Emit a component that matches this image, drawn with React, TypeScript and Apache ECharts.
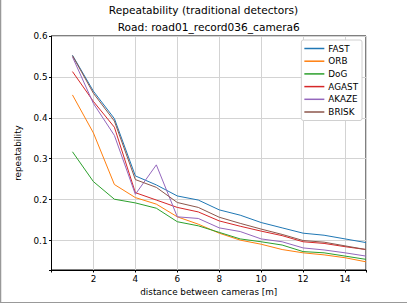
import React, { useEffect, useRef } from "react";
import * as echarts from "echarts";

const distances = [1, 2, 3, 4, 5, 6, 7, 8, 9, 10, 11, 12, 13, 14, 15];
const FAST = [0.553, 0.465, 0.398, 0.258, 0.236, 0.209, 0.199, 0.175, 0.162, 0.144, 0.131, 0.118, 0.113, 0.104, 0.095];
const ORB = [0.456, 0.363, 0.237, 0.205, 0.189, 0.158, 0.140, 0.118, 0.101, 0.091, 0.078, 0.070, 0.065, 0.058, 0.048];
const DoG = [0.317, 0.244, 0.201, 0.192, 0.179, 0.146, 0.136, 0.120, 0.104, 0.097, 0.089, 0.073, 0.070, 0.062, 0.054];
const AGAST = [0.513, 0.440, 0.377, 0.217, 0.199, 0.181, 0.170, 0.148, 0.135, 0.123, 0.112, 0.097, 0.093, 0.085, 0.078];
const AKAZE = [0.549, 0.435, 0.357, 0.213, 0.285, 0.158, 0.154, 0.131, 0.122, 0.104, 0.097, 0.082, 0.077, 0.070, 0.062];
const BRISK = [0.552, 0.460, 0.392, 0.249, 0.230, 0.193, 0.181, 0.157, 0.142, 0.128, 0.115, 0.100, 0.096, 0.087, 0.078];

const seriesNames = ["FAST", "ORB", "DoG", "AGAST", "AKAZE", "BRISK"];
const seriesValues = [FAST, ORB, DoG, AGAST, AKAZE, BRISK];
const colors = ["#1f77b4", "#ff7f0e", "#2ca02c", "#d62728", "#9467bd", "#8c564b"];

const FONT = "DejaVu Sans";

export default function App() {
  const ref = useRef<HTMLDivElement>(null);
  useEffect(() => {
    if (!ref.current) return;
    const chart = echarts.init(ref.current, null, { renderer: "svg" });
    const gl = 51.5, gr = 366, gt = 36, gb = 270;
    chart.setOption({
      animation: false,
      backgroundColor: "#ffffff",
      textStyle: { fontFamily: FONT },
      grid: {
        left: gl,
        right: 407 - gr,
        top: gt,
        bottom: 304 - gb,
        show: true,
        borderColor: "#000",
        borderWidth: 1,
        backgroundColor: "transparent",
      },
      legend: {
        orient: "vertical",
        right: 45,
        top: 40,
        data: seriesNames,
        icon: "rect",
        itemWidth: 20,
        itemHeight: 1.5,
        itemGap: 2.7,
        padding: [3.5, 4, 3.5, 3],
        backgroundColor: "#fff",
        borderColor: "#d0d0d0",
        borderWidth: 1,
        borderRadius: 2,
        textStyle: { fontFamily: FONT, fontSize: 8.8, lineHeight: 10, color: "#000", padding: [0, 0, 0, -1] },
      },
      xAxis: {
        type: "value",
        min: 0,
        max: 15,
        interval: 2,
        name: "distance between cameras [m]",
        nameLocation: "middle",
        nameGap: 16,
        nameTextStyle: { fontFamily: FONT, fontSize: 8.8, color: "#000" },
        axisLine: { show: true, lineStyle: { color: "#000", width: 1 } },
        axisTick: { show: true, length: 2.5, lineStyle: { color: "#000" } },
        axisLabel: {
          fontFamily: FONT,
          fontSize: 8.8,
          color: "#000",
          margin: 4,
          formatter: (v: number) => (v === 0 || v === 15 ? "" : String(v)),
        },
        splitLine: { show: true, lineStyle: { color: "#d3d3d3", width: 1 } },
      },
      yAxis: {
        type: "value",
        min: 0.028,
        max: 0.6,
        splitNumber: 5,
        name: "repeatability",
        nameLocation: "middle",
        nameGap: 20,
        nameTextStyle: { fontFamily: FONT, fontSize: 8.8, color: "#000" },
        axisLine: { show: true, lineStyle: { color: "#000", width: 1 } },
        axisTick: { show: true, length: 2.5, lineStyle: { color: "#000" } },
        axisLabel: {
          fontFamily: FONT,
          fontSize: 8.8,
          color: "#000",
          margin: 4,
          formatter: (v: number) => {
            const r = Math.round(v * 10) / 10;
            return Math.abs(r - v) < 1e-6 && r > 0 ? r.toFixed(1) : "";
          },
        },
        splitLine: { show: true, lineStyle: { color: "#d3d3d3", width: 1 } },
      },
      series: seriesNames.map((name, i) => ({
        name,
        type: "line",
        data: distances.map((d, j) => [d, seriesValues[i][j]]),
        symbol: "none",
        showSymbol: false,
        lineStyle: { color: colors[i], width: 1 },
        itemStyle: { color: colors[i] },
        z: 3 + i,
      })),
      graphic: [
        {
          type: "text",
          x: 203.5,
          y: 9.5,
          style: {
            text: "Repeatability (traditional detectors)",
            fontFamily: FONT,
            fontSize: 10.6,
            fill: "#000",
            textAlign: "center",
            textVerticalAlign: "middle",
          },
        },
        {
          type: "text",
          x: (gl + gr) / 2,
          y: 26.5,
          style: {
            text: "Road: road01_record036_camera6",
            fontFamily: FONT,
            fontSize: 10.6,
            fill: "#000",
            textAlign: "center",
            textVerticalAlign: "middle",
          },
        },
        {
          type: "line",
          shape: { x1: 0.5, y1: 0, x2: 0.5, y2: 303 },
          style: { stroke: "#999", lineWidth: 1.5 },
        },
        {
          type: "line",
          shape: { x1: 0, y1: 302.5, x2: 407, y2: 302.5 },
          style: { stroke: "#999", lineWidth: 1 },
        },
      ],
    });
    return () => chart.dispose();
  }, []);
  return (
    <div
      ref={ref}
      style={{ position: "fixed", left: 0, top: 0, width: 407, height: 304 }}
    />
  );
}
